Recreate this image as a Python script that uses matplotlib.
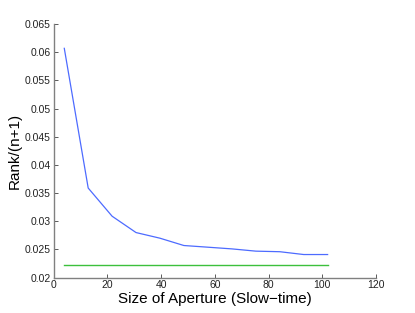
import matplotlib
matplotlib.use('Agg')
import matplotlib.pyplot as plt

plt.rcParams['font.family'] = ['Liberation Sans', 'DejaVu Sans']

aperture = [4, 12.9, 21.8, 30.7, 39.6, 48.5, 57.5, 66.4, 75.3, 84.2, 93.1, 102]
rank_ratio = [0.0607, 0.0359, 0.0309, 0.0280, 0.0270, 0.0257, 0.0254, 0.0251,
              0.0247, 0.0246, 0.0241, 0.0241]
baseline = [0.02225, 0.02225]
baseline_x = [4, 102]

fig = plt.figure(figsize=(4.15, 3.13), dpi=100)
ax = fig.add_axes([0.129, 0.113, 0.777, 0.81])

ax.plot(aperture, rank_ratio, color='#4d6bff', lw=0.9)
ax.plot(baseline_x, baseline, color='#3cc03c', lw=1.0)

ax.set_xlim(0, 120)
ax.set_ylim(0.02, 0.065)
ax.set_xticks([0, 20, 40, 60, 80, 100, 120])
ax.set_yticks([0.02, 0.025, 0.03, 0.035, 0.04, 0.045, 0.05, 0.055, 0.06, 0.065])
ax.set_yticklabels(['0.02', '0.025', '0.03', '0.035', '0.04', '0.045', '0.05',
                    '0.055', '0.06', '0.065'])

for s in ['top', 'right']:
    ax.spines[s].set_visible(False)
for s in ['left', 'bottom']:
    ax.spines[s].set_color('#808080')
    ax.spines[s].set_linewidth(1.0)
ax.tick_params(direction='in', length=3, width=0.6, color='#404040',
               labelsize=7.5, pad=2, labelcolor='#222222')

ax.set_xlabel('Size of Aperture (Slow\u2212time)', fontsize=11, labelpad=1)
ax.set_ylabel('Rank/(n+1)', fontsize=11, labelpad=2)

fig.savefig('out.png', dpi=100)
